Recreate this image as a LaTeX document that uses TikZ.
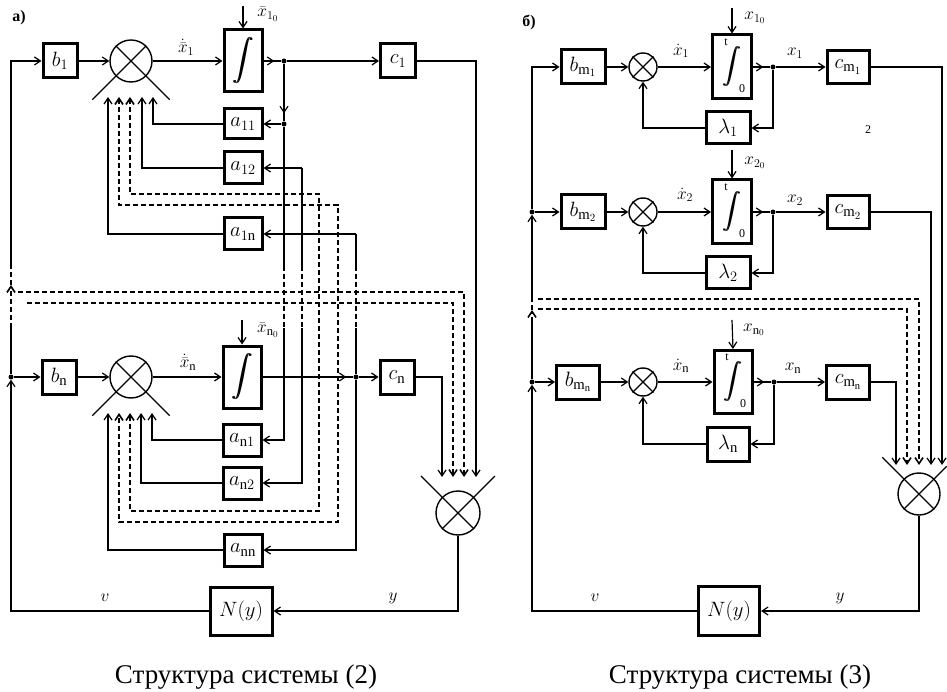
\documentclass[tikz,border=0pt]{standalone}
\usepackage{graphicx}
\usepackage{fontspec}
\setmainfont{Liberation Serif}
\usetikzlibrary{arrows.meta}
\newcommand\blkfont{\fontsize{21}{23}\selectfont}
\newcommand\sigfont{\fontsize{18}{20}\selectfont}
\newcommand\limfont{\fontsize{12}{12}\selectfont}
\newcommand\intglyph[1]{\resizebox*{!}{#1}{$\displaystyle\int$}}
\newcommand\bigint{\rlap{\intglyph{46pt}}\hspace{1.2pt}\intglyph{46pt}}
\newcommand\rbigint{\rlap{\intglyph{40pt}}\hspace{1pt}\intglyph{40pt}}
\begin{document}
\begin{tikzpicture}[x=1pt,y=-1pt,
  blk/.style={draw, line width=3pt, inner sep=0pt, font=\blkfont},
  conn/.style={line width=1.2pt},
  arr/.style={conn, -{Straight Barb[length=6pt,width=8pt]}},
  dsh/.style={line width=1.6pt, dash pattern=on 5pt off 3pt},
  darr/.style={dsh, -{Straight Barb[length=6pt,width=8pt]}},
  dloop/.style={dsh, {Straight Barb[length=6pt,width=8pt]}-{Straight Barb[length=6pt,width=8pt]}},
  sumc/.style={circle, draw, line width=1.4pt, inner sep=0pt},
  jdot/.style={circle, fill, inner sep=0pt, minimum size=5pt},
  lab/.style={inner sep=0pt, font=\sigfont},
  limlab/.style={inner sep=0pt, font=\limfont},
]
\fill[white] (0,0) rectangle (947,692);
\useasboundingbox (0,0) rectangle (947,692);

% ================= LEFT (a) =================
\node[blk, minimum width=34, minimum height=34] (b1) at (60,61) {$b_1$};
\node[sumc, minimum size=42] (s1) at (131,61) {};
\node[blk, minimum width=38, minimum height=62] (int1) at (243,61) {\bigint};
\node[jdot] (j1) at (284,61) {};
\node[blk, minimum width=35, minimum height=34] (c1) at (398,61) {$c_1$};
\node[jdot] (ja) at (284,124) {};
\node[blk, minimum width=38, minimum height=30] (a11) at (243,124) {$a_{11}$};
\node[blk, minimum width=38, minimum height=32] (a12) at (243,168) {$a_{12}$};
\node[blk, minimum width=38, minimum height=32] (a1n) at (243,234) {$a_{1\mathrm{n}}$};

\node[blk, minimum width=34, minimum height=34] (bn) at (59,377) {$b_\mathrm{n}$};
\node[sumc, minimum size=42] (sn) at (131,377) {};
\node[blk, minimum width=38, minimum height=62] (intn) at (242,377) {\bigint};
\node[jdot] (jn) at (356,377) {};
\node[blk, minimum width=34, minimum height=34] (cn) at (397,377) {$c_\mathrm{n}$};
\node[blk, minimum width=38, minimum height=32] (an1) at (242,440) {$a_{\mathrm{n}1}$};
\node[blk, minimum width=38, minimum height=32] (an2) at (242,483) {$a_{\mathrm{n}2}$};
\node[blk, minimum width=38, minimum height=32] (ann) at (243,550) {$a_{\mathrm{nn}}$};
\node[sumc, minimum size=44] (fs) at (458,513) {};
\node[blk, minimum width=62, minimum height=48] (Ny) at (241,611) {$N(y)$};
\node[jdot] (jv) at (11,377) {};

\coordinate (Lvb) at (11,328);
\coordinate (Lva) at (11,285);
\coordinate (Lvc) at (11,266);
\coordinate (i11) at (108,97);
\coordinate (i12) at (119,97);
\coordinate (i13) at (130,97);
\coordinate (i14) at (142,97);
\coordinate (i15) at (153,97);
\coordinate (k11) at (108,413);
\coordinate (k12) at (119,413);
\coordinate (k13) at (130,413);
\coordinate (k14) at (141,413);
\coordinate (k15) at (152,413);
\coordinate (q1) at (319,511);
\coordinate (q2) at (338,522);
\coordinate (P1) at (284,266);
\coordinate (P2) at (284,328);
\coordinate (Q0) at (302,168);
\coordinate (Q1) at (302,266);
\coordinate (Q2) at (302,328);
\coordinate (R0) at (356,234);
\coordinate (R1) at (356,266);
\coordinate (R2) at (356,328);
\coordinate (F1) at (442,477);
\coordinate (F2) at (453,477);
\coordinate (F3) at (464,477);
\coordinate (F4) at (476,477);
\coordinate (D1) at (18,292);
\coordinate (D2) at (27,303);
\coordinate (X10) at (243,6);
\coordinate (Xn0) at (242,320);

% sums' crosses
\draw[conn] (s1.north west) -- ++(54,54);
\draw[conn] (s1.north east) -- ++(-54,54);
\draw[conn] (sn.north west) -- ++(54,54);
\draw[conn] (sn.north east) -- ++(-54,54);
\draw[conn] (fs.south east) -- ++(-53,-53);
\draw[conn] (fs.south west) -- ++(53,-53);

% main loop
\draw[arr] (Ny.west) -| (jv.south);
\draw[arr] (jv) -- (bn);
\draw[conn] (jv) -- (Lvb);
\draw[darr] (Lvb) -- (Lva);
\draw[dsh] (Lva) -- (Lvc);
\draw[arr] (Lvc) |- (b1.west);
\draw[arr] (b1) -- (s1);
\draw[arr] (s1) -- (int1);
\draw[conn] (int1) -- (j1);
\draw[arr, shorten >=7pt] (int1) -- (j1);
\draw[arr] (j1) -- (c1);
\draw[arr] (c1.east) -| (F4);
\draw[conn] (j1) -- (ja);
\draw[arr, shorten >=8pt] (j1) -- (ja);
\draw[arr] (ja) -- (a11);
\draw[arr] (a11.west) -| (i15);
\draw[conn] (ja) -- (P1);
\draw[dsh] (P1) -- (P2);
\draw[arr] (P2) |- (an1.east);
\draw[arr] (Q0) -- (a12.east);
\draw[conn] (Q0) -- (Q1);
\draw[dsh] (Q1) -- (Q2);
\draw[arr] (Q2) |- (an2.east);
\draw[arr] (R0) -- (a1n.east);
\draw[conn] (R0) -- (R1);
\draw[dsh] (R1) -- (R2);
\draw[conn] (R2) -- (jn);
\draw[arr] (jn) |- (ann.east);
\draw[arr] (a12.west) -| (i14);
\draw[arr] (a1n.west) -| (i11);
\draw[dloop] (i13) -- ++(0,97) -| (q1) -| (k13);
\draw[dloop] (i12) -- ++(0,108) -| (q2) -| (k12);
\draw[arr] (bn) -- (sn);
\draw[arr] (sn) -- (intn);
\draw[conn] (intn) -- (jn);
\draw[arr, shorten >=7pt] (intn) -- (jn);
\draw[arr] (jn) -- (cn);
\draw[arr] (cn.east) -| (F1);
\draw[arr] (an1.west) -| (k15);
\draw[arr] (an2.west) -| (k14);
\draw[arr] (ann.west) -| (k11);
\draw[darr] (D1) -| (F3);
\draw[darr] (D2) -| (F2);
\draw[arr] (fs.south) |- (Ny.east);
\draw[arr] (X10) -- (int1.north);
\draw[arr] (Xn0) -- (intn.north);

\node[lab] (lx1) at (186,47) {$\dot{\bar{x}}_1$};
\node[lab] (lxn) at (188,362) {$\dot{\bar{x}}_\mathrm{n}$};
\node[lab] (lx10) at (268,14) {$\bar{x}_{1_0}$};
\node[lab] (lxn0) at (268,330) {$\bar{x}_{\mathrm{n}_0}$};
\node[lab] (ly) at (393,598) {$y$};
\node[lab] (lv) at (105,598) {$v$};
\node[inner sep=0pt, font=\bfseries\fontsize{16}{16}\selectfont] (ta) at (19,18) {а)};
\node[inner sep=0pt, font=\fontsize{27}{30}\selectfont] (cap1) at (246,677) {Структура системы (2)};

% ================= RIGHT (b) =================
\node[blk, minimum width=44, minimum height=34] (bm1) at (583,67) {$b_{\mathrm{m}_1}$};
\node[sumc, minimum size=28] (sr1) at (643,67) {};
\node[blk, minimum width=39, minimum height=64] (ir1) at (732,67) {\rbigint};
\node[jdot] (jr1) at (773,67) {};
\node[blk, minimum width=42, minimum height=33] (cm1) at (848,67) {$c_{\mathrm{m}_1}$};
\node[blk, minimum width=44, minimum height=32] (l1) at (728,128) {$\lambda_1$};

\node[blk, minimum width=44, minimum height=34] (bm2) at (583,212) {$b_{\mathrm{m}_2}$};
\node[sumc, minimum size=28] (sr2) at (643,212) {};
\node[blk, minimum width=39, minimum height=64] (ir2) at (732,212) {\rbigint};
\node[jdot] (jr2) at (773,212) {};
\node[blk, minimum width=42, minimum height=33] (cm2) at (848,212) {$c_{\mathrm{m}_2}$};
\node[blk, minimum width=44, minimum height=32] (l2) at (728,273) {$\lambda_2$};

\node[blk, minimum width=43, minimum height=34] (bmn) at (578,382) {$b_{\mathrm{m}_\mathrm{n}}$};
\node[sumc, minimum size=28] (srn) at (643,382) {};
\node[blk, minimum width=38, minimum height=63] (irn) at (733,382) {\rbigint};
\node[jdot] (jrn) at (774,382) {};
\node[blk, minimum width=43, minimum height=34] (cmn) at (848,382) {$c_{\mathrm{m}_\mathrm{n}}$};
\node[blk, minimum width=42, minimum height=34] (ln) at (728,444) {$\lambda_\mathrm{n}$};

\node[sumc, minimum size=42] (rfs) at (919,494) {};
\node[blk, minimum width=61, minimum height=49] (rNy) at (729,611) {$N(y)$};
\node[jdot] (jr2v) at (532,212) {};
\node[jdot] (jrnv) at (532,382) {};

\coordinate (Rb) at (532,322);
\coordinate (Ra) at (532,310);
\coordinate (Rc) at (532,297);
\coordinate (RD1) at (538,299);
\coordinate (RD2) at (538,309);
\coordinate (G1) at (896,465);
\coordinate (G2) at (907,465);
\coordinate (G3) at (919,465);
\coordinate (G4) at (931,465);
\coordinate (G5) at (942,465);
\coordinate (RX1) at (732,8);
\coordinate (RX2) at (732,150);
\coordinate (RXn) at (732,320);

\foreach \s in {sr1,sr2,srn}{
  \draw[conn] (\s.north west) -- (\s.south east);
  \draw[conn] (\s.north east) -- (\s.south west);
}
\draw[conn] (rfs.south east) -- ++(-52,-52);
\draw[conn] (rfs.south west) -- ++(43,-43);

\draw[arr] (rNy.west) -| (jrnv.south);
\draw[arr] (jrnv) -- (bmn);
\draw[conn] (jrnv) -- (Rb);
\draw[darr] (Rb) -- (Ra);
\draw[dsh] (Ra) -- (Rc);
\draw[arr] (Rc) -- (jr2v.south);
\draw[arr] (jr2v) -- (bm2);
\draw[arr] (jr2v) |- (bm1.west);

\draw[arr] (bm1) -- (sr1);
\draw[arr] (sr1) -- (ir1);
\draw[conn] (ir1) -- (jr1);
\draw[arr, shorten >=7pt] (ir1) -- (jr1);
\draw[arr] (jr1) -- (cm1);
\draw[arr] (jr1) |- (l1.east);
\draw[arr] (l1.west) -| (sr1.south);

\draw[arr] (bm2) -- (sr2);
\draw[arr] (sr2) -- (ir2);
\draw[conn] (ir2) -- (jr2);
\draw[arr, shorten >=7pt] (ir2) -- (jr2);
\draw[arr] (jr2) -- (cm2);
\draw[arr] (jr2) |- (l2.east);
\draw[arr] (l2.west) -| (sr2.south);

\draw[arr] (bmn) -- (srn);
\draw[arr] (srn) -- (irn);
\draw[conn] (irn) -- (jrn);
\draw[arr, shorten >=7pt] (irn) -- (jrn);
\draw[arr] (jrn) -- (cmn);
\draw[arr] (jrn) |- (ln.east);
\draw[arr] (ln.west) -| (srn.south);

\draw[arr] (cm1.east) -| (G5);
\draw[arr] (cm2.east) -| (G4);
\draw[arr] (cmn.east) -| (G1);
\draw[darr] (RD1) -| (G3);
\draw[darr] (RD2) -| (G2);
\draw[arr] (rfs.south) |- (rNy.east);
\draw[arr] (RX1) -- (ir1.north);
\draw[arr] (RX2) -- (ir2.north);
\draw[arr] (RXn) -- (irn.north);

\node[limlab] (t1) at (726,42) {t};
\node[limlab] (z1) at (742,89) {0};
\node[limlab] (t2) at (726,187) {t};
\node[limlab] (z2) at (742,234) {0};
\node[limlab] (tn) at (727,357) {t};
\node[limlab] (zn) at (743,404) {0};

\node[lab] (rdx1) at (681,51) {$\dot{x}_1$};
\node[lab] (rdx2) at (685,195) {$\dot{x}_2$};
\node[lab] (rdxn) at (681,366) {$\dot{x}_\mathrm{n}$};
\node[lab] (rx1) at (795,53) {$x_1$};
\node[lab] (rx2) at (795,200) {$x_2$};
\node[lab] (rxn) at (793,368) {$x_\mathrm{n}$};
\node[lab] (rx10) at (755,18) {$x_{1_0}$};
\node[lab] (rx20) at (755,163) {$x_{2_0}$};
\node[lab] (rxn0) at (754,330) {$x_{\mathrm{n}_0}$};
\node[lab] (ry) at (840,598) {$y$};
\node[lab] (rv) at (595,598) {$v$};
\node[limlab] (two) at (868,130) {2};
\node[inner sep=0pt, font=\bfseries\fontsize{16}{16}\selectfont] (tb) at (529,22) {б)};
\node[inner sep=0pt, font=\fontsize{27}{30}\selectfont] (cap2) at (740,677) {Структура системы (3)};
\end{tikzpicture}
\end{document}
